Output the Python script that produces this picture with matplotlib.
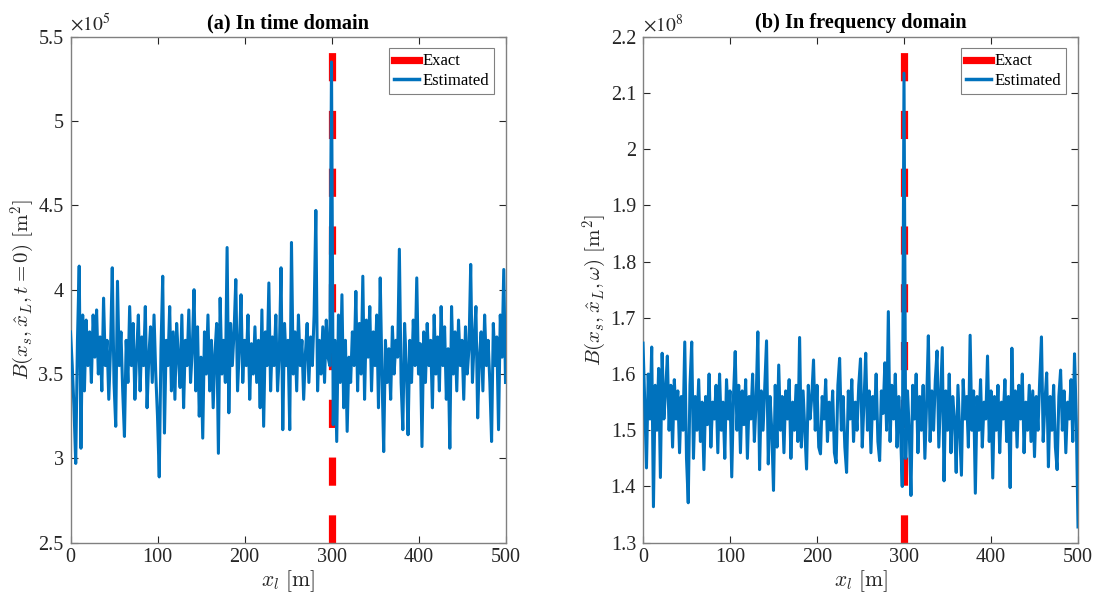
import matplotlib
matplotlib.use("Agg")
import matplotlib.pyplot as plt
import numpy as np
from matplotlib.ticker import FuncFormatter

plt.rcParams['font.family'] = ['Liberation Serif', 'DejaVu Serif']
plt.rcParams['mathtext.fontset'] = 'cm'

# values, x = 0, 2, 4, ..., 500 m
time_est = [
  3.75, 3.55, 3.30, 2.97, 3.70, 4.14, 3.06, 3.85, 3.40, 3.82,
  3.55, 3.75, 3.45, 3.85, 3.60, 3.88, 3.50, 3.72, 3.40, 3.95,
  3.55, 3.70, 3.35, 3.65, 4.13, 3.45, 3.19, 4.05, 3.55, 3.75,
  3.40, 3.13, 3.70, 3.45, 3.90, 3.55, 3.80, 3.35, 3.62, 3.85,
  3.40, 3.72, 3.55, 3.90, 3.30, 3.60, 3.78, 3.45, 3.85, 3.50,
  3.25, 2.89, 3.65, 4.08, 3.15, 3.70, 3.55, 3.90, 3.40, 3.75,
  3.35, 3.80, 3.60, 3.42, 3.85, 3.30, 3.70, 3.55, 3.88, 3.45,
  3.65, 4.00, 3.40, 3.78, 3.25, 3.60, 3.12, 3.75, 3.50, 3.85,
  3.40, 3.70, 3.30, 3.62, 3.80, 3.03, 3.95, 3.50, 3.70, 3.45,
  4.25, 3.27, 3.80, 3.55, 3.75, 4.06, 3.40, 3.65, 3.97, 3.45,
  3.70, 3.55, 3.85, 3.35, 3.68, 3.50, 3.78, 3.45, 3.70, 3.30,
  3.88, 3.19, 3.75, 3.55, 4.04, 3.40, 3.72, 3.55, 3.85, 3.40,
  3.62, 4.13, 3.17, 3.80, 3.55, 3.70, 3.17, 4.28, 3.50, 3.75,
  3.40, 3.85, 3.55, 3.70, 3.35, 3.62, 3.80, 3.45, 3.72, 3.55,
  3.85, 4.47, 3.40, 3.70, 3.50, 3.78, 3.45, 3.82, 3.60, 3.55,
  5.35, 3.20, 3.70, 3.10, 3.85, 3.45, 3.97, 3.30, 3.70, 3.16,
  3.60, 3.45, 3.75, 3.55, 3.99, 3.40, 3.80, 3.50, 4.08, 3.35,
  3.82, 3.60, 3.90, 3.40, 3.75, 3.55, 3.85, 3.30, 4.07, 3.50,
  3.04, 3.70, 3.45, 3.65, 3.35, 3.78, 3.50, 3.70, 3.60, 4.24,
  3.45, 3.17, 3.80, 3.55, 3.14, 3.70, 3.45, 3.82, 3.55, 4.07,
  3.50, 3.68, 3.07, 3.75, 3.45, 3.80, 3.55, 3.70, 3.30, 3.85,
  3.50, 3.72, 3.40, 3.90, 3.55, 3.78, 3.35, 3.65, 3.06, 3.90,
  3.50, 3.75, 3.40, 3.82, 3.55, 3.70, 3.35, 3.78, 3.50, 3.65,
  4.15, 3.45, 3.70, 3.90, 3.24, 3.60, 3.75, 3.40, 3.85, 3.55,
  3.70, 3.45, 3.10, 3.80, 3.55, 3.72, 3.17, 3.85, 3.60, 4.12,
  3.45]

freq_est = [
  1.655, 1.55, 1.433, 1.60, 1.52, 1.648, 1.364, 1.58, 1.50, 1.61,
  1.416, 1.637, 1.52, 1.57, 1.632, 1.50, 1.58, 1.47, 1.59, 1.52,
  1.57, 1.46, 1.56, 1.50, 1.657, 1.45, 1.371, 1.58, 1.657, 1.45,
  1.56, 1.50, 1.59, 1.48, 1.55, 1.43, 1.56, 1.51, 1.60, 1.47,
  1.55, 1.52, 1.58, 1.46, 1.60, 1.50, 1.55, 1.45, 1.59, 1.52,
  1.57, 1.417, 1.56, 1.640, 1.50, 1.58, 1.46, 1.57, 1.51, 1.59,
  1.45, 1.56, 1.52, 1.60, 1.48, 1.55, 1.675, 1.43, 1.57, 1.50,
  1.58, 1.659, 1.44, 1.56, 1.50, 1.393, 1.58, 1.47, 1.616, 1.50,
  1.56, 1.46, 1.57, 1.52, 1.59, 1.45, 1.55, 1.50, 1.58, 1.48,
  1.665, 1.47, 1.57, 1.50, 1.431, 1.58, 1.52, 1.56, 1.625, 1.50,
  1.58, 1.47, 1.458, 1.56, 1.52, 1.59, 1.48, 1.55, 1.50, 1.57,
  1.46, 1.442, 1.58, 1.628, 1.50, 1.56, 1.47, 1.425, 1.57, 1.52,
  1.59, 1.48, 1.55, 1.50, 1.58, 1.627, 1.47, 1.55, 1.637, 1.50,
  1.57, 1.46, 1.56, 1.52, 1.60, 1.48, 1.446, 1.57, 1.53, 1.62,
  1.50, 1.711, 1.48, 1.58, 1.52, 1.60, 1.47, 1.56, 1.50, 1.40,
  2.135, 1.45, 1.57, 1.50, 1.384, 1.58, 1.52, 1.60, 1.46, 1.56,
  1.50, 1.58, 1.45, 1.55, 1.668, 1.48, 1.57, 1.50, 1.59, 1.641,
  1.47, 1.56, 1.647, 1.41, 1.57, 1.50, 1.60, 1.46, 1.56, 1.52,
  1.425, 1.58, 1.50, 1.42, 1.59, 1.52, 1.56, 1.47, 1.669, 1.50,
  1.57, 1.388, 1.56, 1.50, 1.59, 1.47, 1.55, 1.52, 1.632, 1.48,
  1.57, 1.415, 1.56, 1.50, 1.58, 1.46, 1.55, 1.52, 1.59, 1.48,
  1.56, 1.398, 1.646, 1.50, 1.57, 1.47, 1.58, 1.52, 1.60, 1.46,
  1.55, 1.50, 1.58, 1.48, 1.57, 1.453, 1.56, 1.50, 1.59, 1.666,
  1.48, 1.55, 1.602, 1.435, 1.56, 1.50, 1.58, 1.47, 1.43, 1.56,
  1.607, 1.50, 1.57, 1.46, 1.55, 1.52, 1.59, 1.48, 1.636, 1.52,
  1.328]

exact_pos = 300
panels = [
  ('(a) In time domain', time_est, 5, (2.5, 5.5), 0.5,
   r'$B(x_s,\hat{x}_L,t=0)\ [\mathrm{m}^2]$'),
  ('(b) In frequency domain', freq_est, 8, (1.3, 2.2), 0.1,
   r'$B(x_s,\hat{x}_L,\omega)\ [\mathrm{m}^2]$'),
]

fig = plt.figure(figsize=(10.95, 5.97), dpi=100)
lefts = [70.5 / 1095, 643 / 1095]
gray = '#262626'

for left, (title, vals, expo, ylim, step, ylab) in zip(lefts, panels):
  ax = fig.add_axes([left, 54.3 / 597, 435 / 1095, 506 / 597])
  x = np.linspace(0, 500, len(vals))
  ax.axvline(exact_pos, color='#ff0000', lw=5.2, dashes=(3.9, 4.1), label='Exact', zorder=2)
  ax.plot(x, vals, color='#0072BD', lw=2.2, label='Estimated', zorder=3)
  ax.set_xlim(0, 500)
  ax.set_ylim(*ylim)
  ax.set_xticks(np.arange(0, 501, 100))
  ax.set_yticks(np.arange(ylim[0], ylim[1] + step / 2, step))
  ax.yaxis.set_major_formatter(FuncFormatter(lambda v, p: '%g' % round(v, 3)))
  ax.tick_params(direction='in', top=True, right=True, length=5, width=0.8,
                 colors=gray, labelsize=14.5, labelcolor=gray)
  ax.tick_params(axis='y', pad=5)
  for s in ax.spines.values():
    s.set_color('#808080')
    s.set_linewidth(1.0)
  ax.set_title(title, fontsize=14.6, fontweight='bold', pad=6)
  ax.set_xlabel(r'$x_l\ [\mathrm{m}]$', fontsize=15.5, color=gray, labelpad=1)
  ax.set_ylabel(ylab, fontsize=15, color=gray, labelpad=1)
  ax.text(0.0, 1.003, r'$\times10^{%d}$' % expo, transform=ax.transAxes,
          fontsize=14, color=gray, math_fontfamily='stix', va='bottom', ha='left')
  leg = ax.legend(loc='upper right', fontsize=12, fancybox=False, framealpha=1,
                  edgecolor='#808080', handlelength=1.5, handletextpad=0.2,
                  borderpad=0.3, labelspacing=0.2, borderaxespad=0.7)
  leg.get_frame().set_linewidth(0.8)
  for h in leg.get_lines():
    h.set_linestyle('-')
  leg.get_lines()[1].set_linewidth(2.5)

fig.savefig('out.png', dpi=100)
